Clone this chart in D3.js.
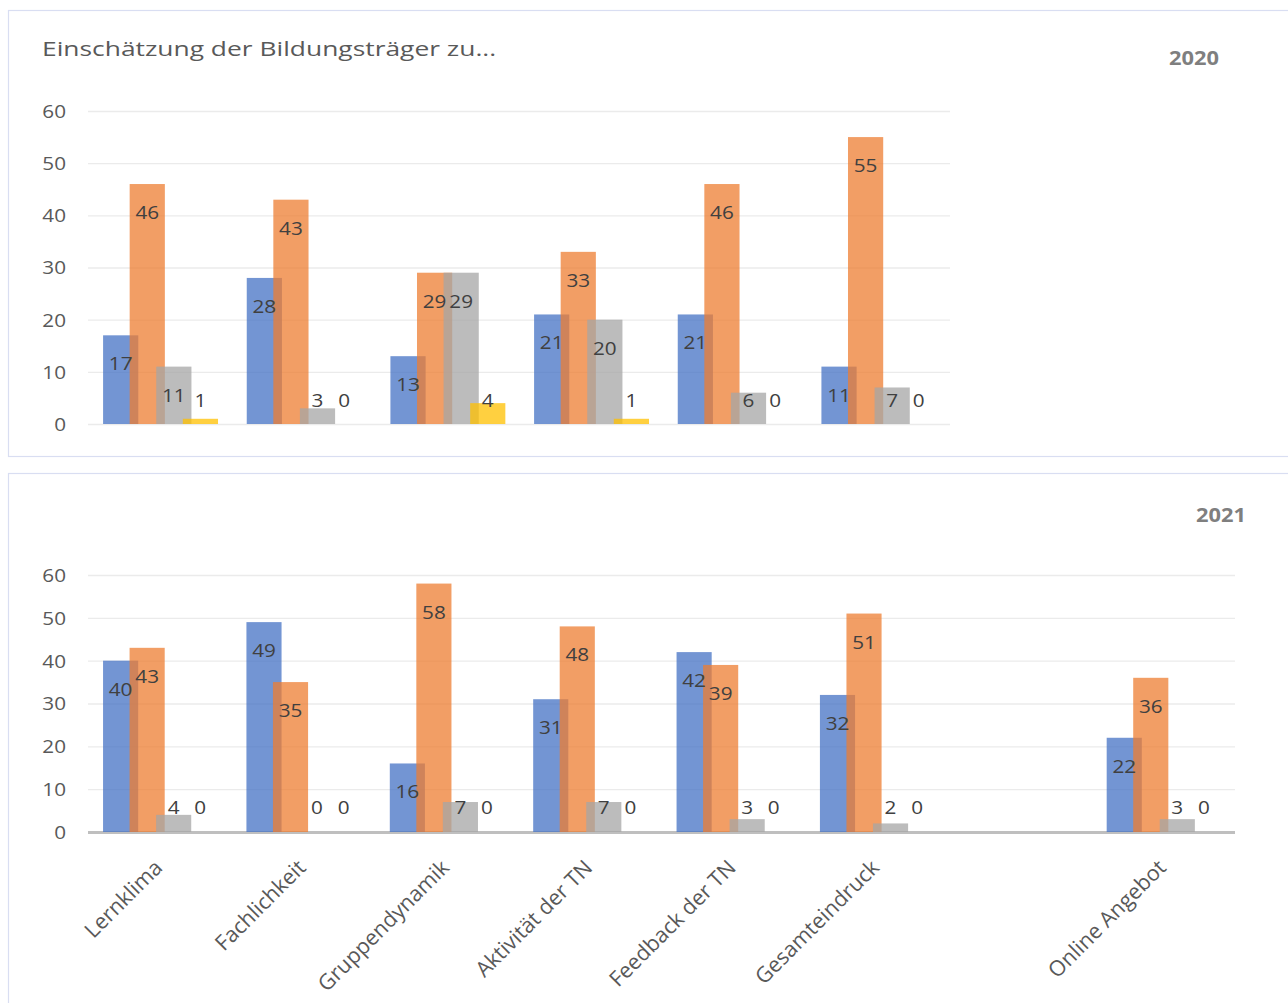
<!DOCTYPE html>
<html>
<head>
<meta charset="utf-8">
<script src="https://cdn.jsdelivr.net/npm/d3@7"></script>
<style>
  html, body { margin: 0; padding: 0; background: #fff; }
  svg { display: block; }
  text { font-family: "Open Sans", "Noto Sans", sans-serif; }
</style>
</head>
<body>
<svg id="chart" width="1288" height="1003"></svg>
<script>
// Ratings by education providers, 2020 and 2021
const chartTitle = "Einschätzung der Bildungsträger zu...";
const yearTop = "2020";
const yearBottom = "2021";

const categoriesTop = ["Lernklima", "Fachlichkeit", "Gruppendynamik", "Aktivität der TN", "Feedback der TN", "Gesamteindruck"];
const categoriesBottom = ["Lernklima", "Fachlichkeit", "Gruppendynamik", "Aktivität der TN", "Feedback der TN", "Gesamteindruck", "", "Online Angebot"];

const seriesColors = ["#4472C4", "#ED7D31", "#A5A5A5", "#FFC000"];

// 2020 – one array per series
const s1_2020 = [17, 28, 13, 21, 21, 11];
const s2_2020 = [46, 43, 29, 33, 46, 55];
const s3_2020 = [11, 3, 29, 20, 6, 7];
const s4_2020 = [1, 0, 4, 1, 0, 0];

// 2021 – the seventh category is an empty slot
const s1_2021 = [40, 49, 16, 31, 42, 32, null, 22];
const s2_2021 = [43, 35, 58, 48, 39, 51, null, 36];
const s3_2021 = [4, 0, 7, 7, 3, 2, null, 3];
const s4_2021 = [0, 0, 0, 0, 0, 0, null, 0];

const yTicks = [0, 10, 20, 30, 40, 50, 60];

const svg = d3.select("#chart");
const TEXT_STRETCH = 1.15;

function stretchedText(g, x, y, str, opts) {
  const t = g.append("text")
    .attr("transform", `translate(${x},${y}) scale(${opts.stretch || TEXT_STRETCH},1)`)
    .attr("dominant-baseline", "central")
    .attr("text-anchor", opts.anchor || "start")
    .attr("font-size", opts.size)
    .attr("font-weight", opts.weight || "normal")
    .attr("fill", opts.color)
    .text(str);
  return t;
}

// panel frames
svg.append("rect").attr("x", 8.5).attr("y", 10.5).attr("width", 1300).attr("height", 446)
  .attr("fill", "none").attr("stroke", "#D9DEF2").attr("stroke-width", 1.2);
svg.append("rect").attr("x", 8.5).attr("y", 473.5).attr("width", 1300).attr("height", 600)
  .attr("fill", "none").attr("stroke", "#D9DEF2").attr("stroke-width", 1.2);

stretchedText(svg, 42, 48, chartTitle, { size: 20, color: "#595959", stretch: 1.32 });
stretchedText(svg, 1194, 58, yearTop, { size: 19, color: "#7F7F7F", weight: "bold", anchor: "middle" });
stretchedText(svg, 1221, 515, yearBottom, { size: 19, color: "#7F7F7F", weight: "bold", anchor: "middle" });

function drawPanel(cfg) {
  const g = svg.append("g");
  const x = d3.scaleBand().domain(d3.range(cfg.categories.length)).range([cfg.left, cfg.right]).padding(0);
  const y = d3.scaleLinear().domain([0, 60]).range([cfg.base, cfg.top]);
  const B = x.bandwidth();
  const barW = 0.245 * B;
  const step = 0.185 * B;
  const groupStart = 0.105 * B;

  // gridlines
  const grid = d3.axisLeft(y).tickValues(yTicks).tickSize(-(cfg.right - cfg.left)).tickFormat("");
  const gg = g.append("g").attr("transform", `translate(${cfg.left},0)`).call(grid);
  gg.select(".domain").remove();
  gg.selectAll("line").attr("stroke", "#EBEBEB").attr("stroke-width", 1.3);

  // tick labels
  yTicks.forEach(v => stretchedText(g, 66, y(v), String(v), { size: 18, color: "#595959", anchor: "end" }));

  if (cfg.axisLine) {
    g.append("line").attr("x1", cfg.left).attr("x2", cfg.right)
      .attr("y1", cfg.base + 0.5).attr("y2", cfg.base + 0.5)
      .attr("stroke", "#BFBFBF").attr("stroke-width", 3);
  }

  const bars = g.append("g");
  const labels = g.append("g");
  cfg.series.forEach((vals, si) => {
    vals.forEach((v, ci) => {
      if (v === null) return;
      const bx = x(ci) + groupStart + si * step;
      bars.append("rect")
        .attr("x", bx).attr("width", barW)
        .attr("y", y(v)).attr("height", y(0) - y(v))
        .attr("fill", seriesColors[si]).attr("fill-opacity", 0.75);
      const ly = Math.min(y(v) + cfg.labelDrop, cfg.base - cfg.labelFloor);
      stretchedText(labels, bx + barW / 2, ly, String(v), { size: 18, color: "#404040", anchor: "middle" });
    });
  });

  if (cfg.xLabels) {
    cfg.categories.forEach((c, ci) => {
      if (!c) return;
      const cx = x(ci) + B / 2;
      g.append("text")
        .attr("transform", `translate(${cx + 4},${cfg.base + 37}) rotate(-45)`)
        .attr("text-anchor", "end")
        .attr("font-size", 21.5)
        .attr("fill", "#595959")
        .text(c);
    });
  }
}

drawPanel({
  categories: categoriesTop,
  series: [s1_2020, s2_2020, s3_2020, s4_2020],
  left: 88, right: 950, top: 111, base: 424,
  labelDrop: 28, labelFloor: 24, axisLine: false, xLabels: false
});

drawPanel({
  categories: categoriesBottom,
  series: [s1_2021, s2_2021, s3_2021, s4_2021],
  left: 88, right: 1235, top: 575, base: 832,
  labelDrop: 28, labelFloor: 25, axisLine: true, xLabels: true
});
</script>
</body>
</html>
